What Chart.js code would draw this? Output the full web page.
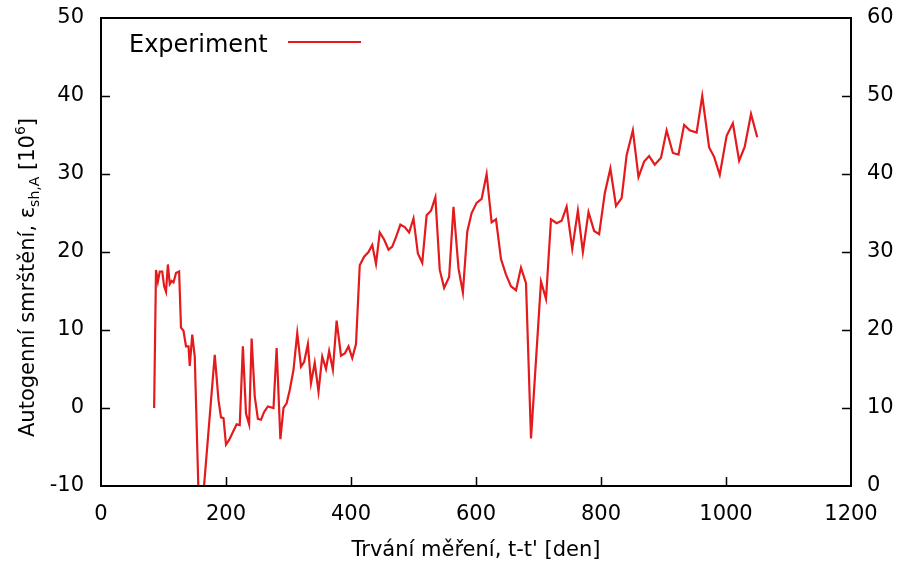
<!DOCTYPE html>
<html>
<head>
<meta charset="utf-8">
<script src="https://cdn.jsdelivr.net/npm/chart.js@4.4.0/dist/chart.umd.min.js"></script>
<style>
  html, body { margin: 0; padding: 0; background: #fff; }
  #chart { display: block; }
</style>
</head>
<body>
<canvas id="chart" width="898" height="563"></canvas>
<script>
const days = [85, 88, 91, 94, 98, 101, 104, 107, 110, 113, 116, 120, 125, 128, 132, 136, 140, 142, 146, 150,
  158, 182, 188, 192, 196, 200, 205, 217, 222, 227, 232, 237, 241, 246, 251, 256, 261, 267, 276, 281,
  287, 292, 297, 302, 308, 314, 320, 325, 331, 336, 342, 348, 354, 360, 365, 371, 377, 384, 390, 396,
  402, 408, 414, 421, 428, 434, 440, 446, 453, 460, 466, 472, 479, 486, 493, 500, 507, 514, 521, 528,
  535, 542, 549, 557, 564, 572, 579, 586, 593, 601, 609, 617, 625, 632, 640, 648, 656, 664, 672, 680,
  688, 704, 712, 720, 729, 737, 745, 754, 763, 771, 780, 789, 797, 806, 815, 824, 833, 841, 851, 860,
  869, 877, 886, 896, 905, 915, 924, 933, 942, 953, 962, 973, 981, 990, 1001, 1011, 1021, 1030, 1040, 1050];

const strain = [0, 17.7, 16.2, 17.5, 17.5, 15.6, 14.9, 18.4, 15.9, 16.3, 16.1, 17.3, 17.5, 10.3, 9.9, 7.9, 7.9, 5.4, 9.4, 6.6,
  -16.7, 6.8, 1.0, -1.2, -1.3, -4.7, -4.1, -2.1, -2.2, 7.9, -0.7, -2.1, 8.9, 1.5, -1.4, -1.5, -0.5, 0.2, 0.0, 7.7,
  -4.0, 0.0, 0.6, 2.3, 4.9, 9.6, 5.3, 5.9, 8.2, 3.2, 5.8, 2.1, 6.6, 5.0, 7.3, 4.9, 11.2, 6.7, 7.0, 7.9,
  6.4, 8.2, 18.3, 19.4, 20.0, 20.9, 18.5, 22.5, 21.6, 20.3, 20.7, 21.9, 23.5, 23.2, 22.5, 24.3, 19.8, 18.6, 24.7, 25.3,
  27.0, 17.7, 15.4, 16.8, 25.8, 17.9, 14.8, 22.6, 25.0, 26.3, 26.8, 30.0, 23.8, 24.2, 19.1, 17.1, 15.6, 15.1, 18.0, 16.0,
  -3.9, 16.2, 14.0, 24.2, 23.7, 24.0, 25.8, 20.4, 25.3, 20.0, 25.1, 22.7, 22.3, 27.5, 30.7, 25.9, 26.9, 32.4, 35.6, 29.6,
  31.6, 32.3, 31.2, 32.1, 35.6, 32.7, 32.5, 36.3, 35.6, 35.3, 40.0, 33.4, 32.2, 29.9, 34.9, 36.5, 31.7, 33.5, 37.7, 34.7];

const seriesLabel = "Experiment";
const xTitle = "Trvání měření, t-t' [den]";
const yTitle = ["Autogenní smrštění, ε", "sh,A", " [10", "6", "]"];

const FONT = "DejaVu Sans";
Chart.defaults.font.family = FONT;
Chart.defaults.color = "#000";

// frame, inward ticks, legend and y title (gnuplot look)
const gnuplotLook = {
  id: "gnuplotLook",
  afterDraw(chart) {
    const ctx = chart.ctx;
    const a = chart.chartArea;
    const sx = chart.scales.x, sy = chart.scales.y, sy2 = chart.scales.y2;
    ctx.save();
    ctx.strokeStyle = "#000";
    ctx.lineWidth = 1.5;
    ctx.beginPath();
    sx.ticks.forEach(t => {
      if (t.value <= sx.min || t.value >= sx.max) return;
      const p = Math.round(sx.getPixelForValue(t.value)) + 0.5;
      ctx.moveTo(p, a.bottom); ctx.lineTo(p, a.bottom - 9);
    });
    sy.ticks.forEach(t => {
      if (t.value <= sy.min || t.value >= sy.max) return;
      const p = Math.round(sy.getPixelForValue(t.value)) + 0.5;
      ctx.moveTo(a.left, p); ctx.lineTo(a.left + 9, p);
    });
    sy2.ticks.forEach(t => {
      if (t.value <= sy2.min || t.value >= sy2.max) return;
      const p = Math.round(sy2.getPixelForValue(t.value)) + 0.5;
      ctx.moveTo(a.right, p); ctx.lineTo(a.right - 9, p);
    });
    ctx.stroke();
    ctx.lineWidth = 2;
    ctx.strokeRect(a.left, a.top, a.right - a.left, a.bottom - a.top);

    // legend: text then line sample
    const ds = chart.data.datasets[0];
    ctx.font = "24px " + FONT;
    ctx.fillStyle = "#000";
    ctx.textAlign = "left";
    ctx.textBaseline = "alphabetic";
    ctx.fillText(ds.label, 129, 52);
    ctx.strokeStyle = ds.borderColor;
    ctx.lineWidth = 2;
    ctx.beginPath();
    ctx.moveTo(288, 42); ctx.lineTo(361, 42);
    ctx.stroke();

    // rotated y title with sub/superscript
    ctx.translate(34, 437);
    ctx.rotate(-Math.PI / 2);
    ctx.fillStyle = "#000";
    const parts = [
      { t: yTitle[0], size: 21, dy: 0 },
      { t: yTitle[1], size: 14, dy: 5 },
      { t: yTitle[2], size: 21, dy: 0 },
      { t: yTitle[3], size: 14, dy: -9 },
      { t: yTitle[4], size: 21, dy: 0 }
    ];
    let x = 0;
    parts.forEach(p => {
      ctx.font = p.size + "px " + FONT;
      ctx.fillText(p.t, x, p.dy);
      x += ctx.measureText(p.t).width;
    });
    ctx.restore();
  }
};

const plain = v => String(v);

new Chart(document.getElementById("chart"), {
  type: "line",
  data: {
    datasets: [{
      label: seriesLabel,
      data: days.map((d, i) => ({ x: d, y: strain[i] })),
      borderColor: "#e41a1c",
      backgroundColor: "#e41a1c",
      borderWidth: 2.2,
      pointRadius: 0,
      fill: false,
      tension: 0,
      yAxisID: "y"
    }]
  },
  options: {
    responsive: false,
    animation: false,
    devicePixelRatio: 1,
    layout: { padding: { top: 18, left: 0, right: 0, bottom: 0 } },
    plugins: {
      legend: { display: false },
      tooltip: { enabled: false }
    },
    scales: {
      x: {
        type: "linear",
        min: 0, max: 1200,
        ticks: { stepSize: 200, font: { size: 21 }, padding: 8, maxRotation: 0, callback: plain },
        grid: { display: false },
        border: { display: false },
        title: { display: true, text: xTitle, font: { size: 21 }, padding: { top: 15, bottom: 0 } },
        afterFit(s) { s.height = 77; s.paddingLeft = 0; s.paddingRight = 0; }
      },
      y: {
        position: "left",
        min: -10, max: 50,
        ticks: { stepSize: 10, font: { size: 21 }, padding: 9, callback: plain },
        grid: { display: false },
        border: { display: false },
        afterFit(s) { s.width = 101; s.paddingTop = 0; s.paddingBottom = 0; }
      },
      y2: {
        position: "right",
        min: 0, max: 60,
        ticks: { stepSize: 10, font: { size: 21 }, padding: 8, callback: plain },
        grid: { display: false },
        border: { display: false },
        afterFit(s) { s.width = 47; s.paddingTop = 0; s.paddingBottom = 0; }
      }
    }
  },
  plugins: [gnuplotLook]
});
</script>
</body>
</html>
